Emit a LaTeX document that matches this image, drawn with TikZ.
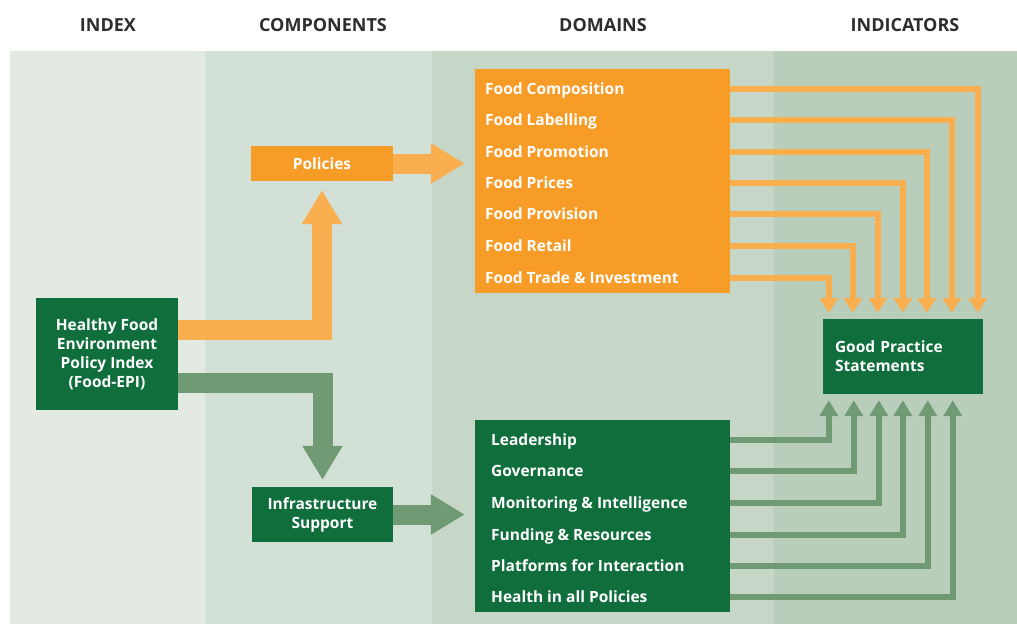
\documentclass[tikz,border=0pt]{standalone}
\usepackage{fontspec}
\setmainfont{Open Sans}
\usetikzlibrary{arrows.meta}
\definecolor{gboxc}{RGB}{15,110,60}
\definecolor{oboxc}{RGB}{248,156,40}
\definecolor{oarr}{RGB}{249,174,79}
\definecolor{garr}{RGB}{111,154,116}
\definecolor{bandA}{RGB}{226,234,225}
\definecolor{bandB}{RGB}{211,224,213}
\definecolor{bandC}{RGB}{198,214,199}
\definecolor{bandD}{RGB}{185,205,187}
\definecolor{headc}{RGB}{45,45,45}
\begin{document}
\begin{tikzpicture}[x=1pt,y=-1pt,
  header/.style={font=\fontsize{18}{22}\selectfont\bfseries, text=headc},
  boxbase/.style={inner sep=0pt, text=white, font=\fontsize{15.5}{19}\selectfont\bfseries, align=center},
  gbox/.style={boxbase, fill=gboxc},
  obox/.style={boxbase, fill=oboxc},
  itm/.style={anchor=west, inner sep=0pt, text=white, font=\fontsize{15.5}{19}\selectfont\bfseries, text height=11pt, text depth=0pt},
  fatO/.style={draw=oarr, line width=20pt, line join=miter, -{Triangle[width=38pt,length=34pt]}},
  fatG/.style={draw=garr, line width=20pt, line join=miter, -{Triangle[width=38pt,length=34pt]}},
  thinO/.style={draw=oarr, line width=6.5pt, line join=miter, -{Triangle[width=18pt,length=15pt]}, shorten >=6pt},
  thinG/.style={draw=garr, line width=6.5pt, line join=miter, -{Triangle[width=18pt,length=16pt]}, shorten >=6pt}
]
\useasboundingbox (0,0) rectangle (1017,624);
\fill[white] (0,0) rectangle (1017,624);
\fill[bandA] (10,51) rectangle (205,624);
\fill[bandB] (205,51) rectangle (432,624);
\fill[bandC] (432,51) rectangle (774,624);
\fill[bandD] (774,51) rectangle (1017,624);

\node[header] (h1) at (108,25) {INDEX};
\node[header] (h2) at (323,25) {COMPONENTS};
\node[header] (h3) at (603,25) {DOMAINS};
\node[header] (h4) at (905,25) {INDICATORS};

\node[gbox, minimum width=142pt, minimum height=112pt] (idx) at (107,354) {Healthy Food\\Environment\\Policy Index\\(Food-EPI)};
\node[obox, minimum width=142pt, minimum height=35pt] (pol) at (322,163.5) {Policies};
\node[gbox, minimum width=141pt, minimum height=55pt] (inf) at (322.5,514.5) {Infrastructure\\Support};
\node[obox, minimum width=255pt, minimum height=224pt] (dom) at (602.5,181) {};
\node[gbox, minimum width=255pt, minimum height=192pt] (gdom) at (602.5,516) {};
\node[gbox, minimum width=160pt, minimum height=75pt, text width=136pt, align=left, inner xsep=12pt] (gps) at (903,356.5) {Good Practice\\Statements};

\node[itm] (o1) at (485,89) {Food Composition};
\node[itm] (o2) at (485,120) {Food Labelling};
\node[itm] (o3) at (485,152) {Food Promotion};
\node[itm] (o4) at (485,183) {Food Prices};
\node[itm] (o5) at (485,214) {Food Provision};
\node[itm] (o6) at (485,246) {Food Retail};
\node[itm] (o7) at (485,278) {Food Trade \& Investment};

\node[itm] (g1) at (491,440) {Leadership};
\node[itm] (g2) at (491,471) {Governance};
\node[itm] (g3) at (491,503) {Monitoring \& Intelligence};
\node[itm] (g4) at (491,535) {Funding \& Resources};
\node[itm] (g5) at (491,566) {Platforms for Interaction};
\node[itm] (g6) at (491,597) {Health in all Policies};

\draw[fatO] ([yshift=24pt]idx.east) -| ([yshift=-9pt]pol.south);
\draw[fatG] ([yshift=-29pt]idx.east) -| ([yshift=7pt]inf.north);
\draw[fatO, shorten >=10pt] (pol.east) -- (pol.east -| dom.west);
\draw[fatG, shorten >=10pt] (inf.east) -- (inf.east -| gdom.west);

\foreach \n/\dx in {o1/155,o2/129,o3/104,o4/80,o5/55,o6/30,o7/6}
  \draw[thinO] (dom.east |- \n.west) -| ([xshift=\dx pt]gps.north west);
\foreach \n/\dx in {g1/6,g2/31,g3/56,g4/80,g5/105,g6/130}
  \draw[thinG] (gdom.east |- \n.west) -| ([xshift=\dx pt]gps.south west);
\end{tikzpicture}
\end{document}
